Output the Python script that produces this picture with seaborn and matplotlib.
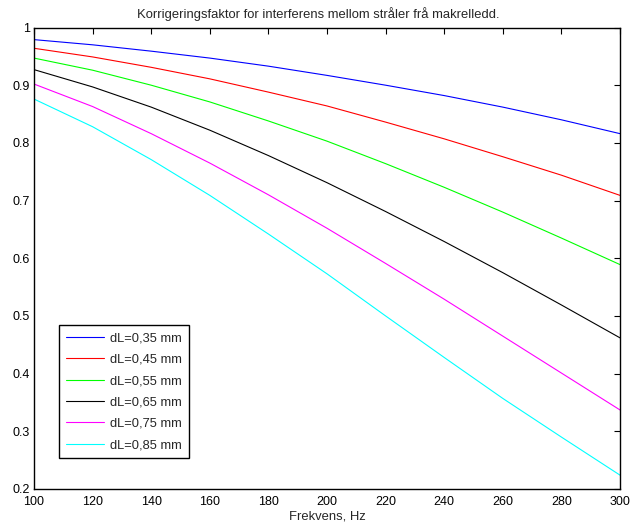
import numpy as np
import pandas as pd
import matplotlib
matplotlib.use("Agg")
import matplotlib.pyplot as plt
import seaborn as sns

# ── Data ──────────────────────────────────────────────────────
freq = [100, 120, 140, 160, 180, 200, 220, 240, 260, 280, 300]
labels = ["dL=0,35 mm", "dL=0,45 mm", "dL=0,55 mm",
          "dL=0,65 mm", "dL=0,75 mm", "dL=0,85 mm"]
k_035 = [0.979, 0.970, 0.959, 0.947, 0.933, 0.917, 0.900, 0.882, 0.862, 0.840, 0.816]
k_045 = [0.964, 0.949, 0.931, 0.911, 0.888, 0.864, 0.836, 0.807, 0.776, 0.744, 0.709]
k_055 = [0.947, 0.926, 0.900, 0.871, 0.838, 0.803, 0.764, 0.723, 0.680, 0.635, 0.589]
k_065 = [0.927, 0.897, 0.862, 0.822, 0.778, 0.731, 0.681, 0.629, 0.575, 0.519, 0.462]
k_075 = [0.902, 0.863, 0.816, 0.765, 0.710, 0.652, 0.591, 0.529, 0.465, 0.401, 0.337]
k_085 = [0.876, 0.828, 0.771, 0.709, 0.642, 0.573, 0.500, 0.428, 0.357, 0.290, 0.224]
colors = ["#0000ff", "#ff0000", "#00ff00", "#000000", "#ff00ff", "#00ffff"]

series = [k_035, k_045, k_055, k_065, k_075, k_085]
df = pd.concat(
    [pd.DataFrame({"freq": freq, "k": s, "dL": lab}) for s, lab in zip(series, labels)],
    ignore_index=True,
)

sns.set_style("white")
plt.rcParams["font.family"] = ["Liberation Sans", "DejaVu Sans"]

fig = plt.figure(figsize=(6.31, 5.24), dpi=100)
ax = fig.add_axes([0.0539, 0.0668, 0.9287, 0.8807])

sns.lineplot(data=df, x="freq", y="k", hue="dL", hue_order=labels,
             palette=colors, linewidth=0.8, ax=ax)

ax.set_xlim(100, 300)
ax.set_ylim(0.2, 1.0)
ax.set_xticks(np.arange(100, 301, 20))
yt = np.round(np.arange(0.2, 1.01, 0.1), 1)
ax.set_yticks(yt)
ax.set_yticklabels([f"{v:g}" for v in yt])
ax.tick_params(direction="in", top=True, right=True, length=4, width=0.8,
               labelsize=9, colors="black")
ax.tick_params(axis="x", pad=5)
ax.tick_params(axis="y", pad=3)
for sp in ax.spines.values():
    sp.set_color("black")
    sp.set_linewidth(1.0)

ax.set_title("Korrigeringsfaktor for interferens mellom stråler frå makrelledd.",
             fontsize=9.4, pad=7, x=0.485)
ax.set_xlabel("Frekvens, Hz", fontsize=9.4, labelpad=2)
ax.set_ylabel("")

leg = ax.legend(loc="lower left", bbox_to_anchor=(0.0427, 0.0665), borderaxespad=0,
                fontsize=9.3, handlelength=2.9, handletextpad=0.5,
                labelspacing=0.72, borderpad=0.55, fancybox=False, framealpha=1)
leg.get_frame().set_edgecolor("black")
leg.get_frame().set_linewidth(1.0)

fig.savefig("out.png", dpi=100)
plt.close(fig)
